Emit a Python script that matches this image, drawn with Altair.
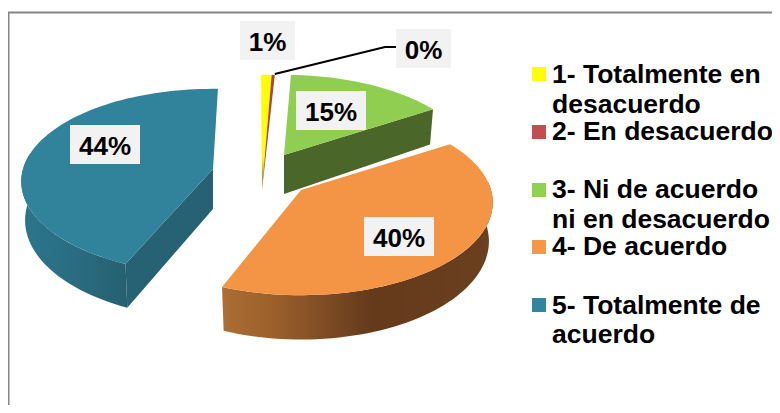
import math
import altair as alt
import pandas as pd

# ---- data ----
categories = ["1- Totalmente en desacuerdo", "2- En desacuerdo",
              "3- Ni de acuerdo ni en desacuerdo", "4- De acuerdo",
              "5- Totalmente de acuerdo"]
values = [1.0, 0.3, 14.7, 40.0, 44.0]
value_labels = ["1%", "0%", "15%", "40%", "44%"]
legend_lines = [["1- Totalmente en", "desacuerdo"], ["2- En desacuerdo"],
                ["3- Ni de acuerdo", "ni en desacuerdo"], ["4- De acuerdo"],
                ["5- Totalmente de", "acuerdo"]]

# ---- style and layout ----
FONT = "Liberation Sans"
legend_colors = ["#ffff00", "#c0504d", "#92d050", "#f79646", "#31859c"]
W, H = 764, 397
X0, Y0 = 8, 8
START = -0.3      # rotation of the first slice, degrees clockwise from top
RX, RY, K = 190.0, 91.0, 0.135   # pie ellipse radii and perspective
DEPTH = 38.0
centres = [(262, 155), (262, 155), (284, 155), (301, 190), (213, 169)]
angle_pad = [(0, 0), (0, 0), (-2, 0), (0, 0), (2.5, 2)]  # 3-D foreshortening of slice edges
label_boxes = [(240, 21), (396, 29), (296, 91), (364, 217), (70, 125)]
box_w = [55, 55, 70, 70, 70]
box_h = 39
swatch_y = [74, 132, 190, 247, 305]
legend_base = [[83, 113], [140], [198, 228], [255], [314, 343]]

x_scale = alt.Scale(domain=[X0, X0 + W], nice=False, zero=False)
y_scale = alt.Scale(domain=[Y0 + H, Y0], nice=False, zero=False)
x_enc = alt.X("x:Q", axis=None, scale=x_scale)
y_enc = alt.Y("y:Q", axis=None, scale=y_scale)

# angular extents come from the values
total = sum(values)
angles = []
a = START
for v, pad in zip(values, angle_pad):
    b = a + v / total * 360.0
    angles.append((a + pad[0], b + pad[1]))
    a = b


def rim(i, deg):
    t = math.radians(deg)
    u, v = math.sin(t), math.cos(t)
    w = 1 + K * v
    cx, cy = centres[i]
    return cx + RX * u / w, cy - RY * v / w


def low(i, p):
    cx, cy = centres[i]
    return cx + (p[0] - cx) * 0.98, cy + DEPTH + (p[1] - cy) * 1.06


def arc(i, a0, a1):
    n = max(2, int(abs(a1 - a0) / 2) + 1)
    return [rim(i, a0 + (a1 - a0) * j / n) for j in range(n + 1)]


def poly(pts, fill):
    df = pd.DataFrame({"x": [p[0] for p in pts], "y": [p[1] for p in pts],
                       "i": list(range(len(pts)))})
    return alt.Chart(df).mark_line(fill=fill, strokeWidth=0, interpolate="linear").encode(
        x=x_enc, y=y_enc, order=alt.Order("i:Q"))


def hgrad(stops):
    return alt.Gradient(gradient="linear", x1=0, y1=0, x2=1, y2=0,
                        stops=[alt.GradientStop(offset=o, color=c) for o, c in stops])


def vgrad(stops):
    return alt.Gradient(gradient="linear", x1=0, y1=0, x2=0, y2=1,
                        stops=[alt.GradientStop(offset=o, color=c) for o, c in stops])


layers = []

# frame
frame = pd.DataFrame({"x": [8.5, 8.5, 772], "y": [405, 12.5, 12.5], "i": [0, 1, 2]})
layers.append(alt.Chart(frame).mark_line(color="#868686", strokeWidth=2).encode(
    x=x_enc, y=y_enc, order=alt.Order("i:Q")))

# slice 5 (blue)
i = 4
c = centres[i]
a0, a1 = angles[i]
front = arc(i, a0, 280)
layers.append(poly(front + [low(i, p) for p in reversed(front)],
                   hgrad([(0, "#2b768c"), (0.55, "#2a6b80"), (1, "#25606f")])))
layers.append(poly([c, (c[0], c[1] + DEPTH + 2), low(i, rim(i, a0)), rim(i, a0)], "#266273"))
layers.append(poly([c] + arc(i, a0, a1), "#31829b"))

# slices 1 and 2 (thin)
tip = (centres[0][0], centres[0][1] + DEPTH - 3)
layers.append(poly([tip] + arc(0, *angles[0]),
                   vgrad([(0, "#ffff00"), (0.72, "#ffff00"), (0.85, "#b5b500"), (1, "#8f8f10")])))
layers.append(poly([tip] + arc(1, *angles[1]), "#a9443f"))

# slice 3 (green)
i = 2
c = centres[i]
a0, a1 = angles[i]
layers.append(poly([c, (c[0], c[1] + DEPTH + 1), low(i, rim(i, a1)), rim(i, a1)], "#4a6628"))
layers.append(poly([c] + arc(i, a0, a1), "#8fce50"))

# slice 4 (orange)
i = 3
c = centres[i]
a0, a1 = angles[i]
front = arc(i, 85, a1)
layers.append(poly(front + [low(i, p) for p in reversed(front)],
                   hgrad([(0, "#ad6d34"), (0.2, "#9a5f2c"), (0.55, "#643a1b"), (1, "#6a401f")])))
layers.append(poly([c] + arc(i, a0, a1), "#f39545"))

# leader line for the 0% label
rim_pt = rim(1, angles[1][1])
leader = pd.DataFrame({"x": [rim_pt[0], 385, 396], "y": [rim_pt[1] - 1, 47, 47], "i": [0, 1, 2]})
layers.append(alt.Chart(leader).mark_line(color="#000000", strokeWidth=2).encode(
    x=x_enc, y=y_enc, order=alt.Order("i:Q")))

# value labels
boxes = pd.DataFrame({
    "x": [b[0] for b in label_boxes],
    "x2": [b[0] + w for b, w in zip(label_boxes, box_w)],
    "y": [b[1] for b in label_boxes],
    "y2": [b[1] + box_h for b in label_boxes],
    "tx": [b[0] + w / 2 for b, w in zip(label_boxes, box_w)],
    "ty": [b[1] + 30 for b in label_boxes],
    "label": value_labels,
})
layers.append(alt.Chart(boxes).mark_rect(color="#f2f2f2").encode(
    x=x_enc, x2="x2:Q", y=y_enc, y2="y2:Q"))
layers.append(alt.Chart(boxes).mark_text(font=FONT, fontWeight="bold", fontSize=26, color="#000000",
                                         align="center", baseline="alphabetic").encode(
    x=alt.X("tx:Q", axis=None, scale=x_scale), y=alt.Y("ty:Q", axis=None, scale=y_scale),
    text="label:N"))

# legend
sw = pd.DataFrame({"x": [532] * 5, "x2": [546] * 5,
                   "y": [s - 7 for s in swatch_y], "y2": [s + 7 for s in swatch_y],
                   "cat": categories, "col": legend_colors})
layers.append(alt.Chart(sw).mark_rect().encode(
    x=x_enc, x2="x2:Q", y=y_enc, y2="y2:Q", color=alt.Color("col:N", scale=None)))
lines = [(t, yy) for ls, bs in zip(legend_lines, legend_base) for t, yy in zip(ls, bs)]
leg = pd.DataFrame({"x": [552] * len(lines), "y": [l[1] for l in lines], "t": [l[0] for l in lines]})
layers.append(alt.Chart(leg).mark_text(font=FONT, fontWeight="bold", fontSize=26.5, color="#000000",
                                       align="left", baseline="alphabetic").encode(
    x=x_enc, y=y_enc, text="t:N"))

chart = alt.layer(*layers).properties(
    width=W, height=H, padding=0, autosize=alt.AutoSizeParams(type="none"),
    background="#ffffff",
).configure_view(stroke=None)

chart.save("out.html", embed_options={"renderer": "svg", "actions": False})
